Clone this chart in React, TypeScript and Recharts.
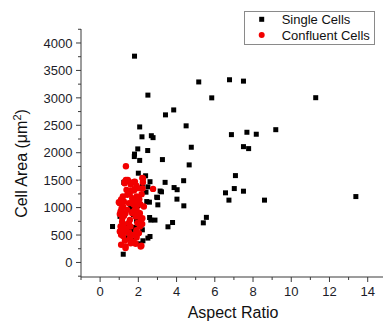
import React from "react";
import { Scatter, ScatterChart, XAxis, YAxis } from "recharts";

// aspect ratio / area pairs
const singleAspect = [
  1.8, 2.5, 3.42, 3.85, 4.5, 2.07, 2.19, 2.68, 2.77, 1.97, 2.49, 1.8, 1.79, 2.07, 3.26, 4.77,
  5.16, 6.77, 7.5, 5.84, 11.28, 6.87, 7.68, 8.17, 9.19, 7.5, 7.77, 4.66, 7.08, 6.56, 7.02, 7.5,
  6.74, 8.6, 13.38, 5.4, 5.56, 4.37, 3.87, 4.03, 4.02, 4.38, 3.79, 2.0, 2.38, 2.61, 3.4, 1.24,
  2.21, 2.4, 3.14, 3.21, 3.0, 2.44, 2.58, 3.02, 1.98, 2.59, 2.65, 2.87, 3.55, 0.65, 1.04, 1.51,
  1.63, 1.24, 1.89, 2.21, 2.5, 2.61, 2.24, 2.08, 1.21, 2.5, 2.96, 1.42, 2.03, 1.07, 1.6, 1.75,
  1.45, 1.85, 1.33, 1.7, 1.55, 1.9,
];
const singleArea = [
  3760, 3050, 2690, 2780, 2490, 2470, 2290, 2310, 2275, 2070, 2040, 1975, 1930, 1860, 1875, 2100,
  3290, 3330, 3305, 3000, 3003, 2330, 2373, 2337, 2420, 2111, 2075, 1778, 1583, 1269, 1347, 1299,
  1136, 1136, 1201, 722, 822, 1490, 1365, 1326, 1154, 1032, 728, 1627, 1580, 1472, 1460, 1460,
  1396, 1281, 1302, 1287, 1183, 1110, 1099, 1050, 1037, 819, 772, 772, 650, 655, 840, 626,
  564, 577, 517, 595, 444, 473, 395, 340, 150, 1378, 1190, 437, 1201, 1120, 1000, 870,
  700, 640, 450, 400, 620, 760,
];

const confluentAspect = [
  1.35, 1.29, 1.45, 1.82, 2.24, 2.24, 1.38, 1.59, 1.8, 2.22, 1.19, 1.42, 1.68, 1.91, 2.29, 1.03,
  1.24, 1.51, 1.77, 1.07, 1.42, 1.68, 1.98, 1.16, 1.56, 1.86, 2.12, 1.07, 1.33, 1.59, 2.08, 1.1,
  1.51, 1.77, 2.03, 1.1, 1.33, 1.86, 2.16, 1.35, 1.51, 1.77, 1.28, 2.21, 2.0, 2.77, 1.47, 1.77,
  2.17, 0.98, 1.68, 1.95, 1.03, 1.33, 1.68, 2.08, 2.21, 1.03, 1.28, 1.51, 1.95, 1.33, 2.12, 1.56,
  1.91, 1.6, 1.9, 1.55, 1.1, 1.85, 2.05, 1.2, 1.9, 2.1, 1.12, 1.8, 1.25, 1.95, 1.15, 1.5,
  1.95, 2.2, 1.2, 1.25, 1.4, 1.9, 1.2, 1.3, 1.75, 1.6,
];
const confluentArea = [
  1754, 1474, 1505, 1474, 1529, 1463, 1323, 1310, 1336, 1347, 1201, 1232, 1172, 1201, 1019, 1081,
  1110, 1081, 1050, 928, 959, 899, 910, 808, 777, 837, 777, 655, 626, 655, 655, 504,
  535, 504, 535, 322, 291, 340, 304, 1505, 1474, 1469, 1445, 1541, 1354, 1341, 1292, 1310,
  1245, 1099, 1092, 1081, 881, 899, 917, 899, 808, 564, 577, 546, 517, 262, 291, 444,
  455, 1420, 1400, 1250, 1150, 1130, 1150, 1020, 990, 1060, 980, 950, 850, 850, 740, 720,
  720, 700, 700, 600, 560, 590, 480, 400, 380, 350,
];

const xTicks = [-1, 0, 1, 2, 3, 4, 5, 6, 7, 8, 9, 10, 11, 12, 13, 14];
const yTicks = [
  -250, 0, 250, 500, 750, 1000, 1250, 1500, 1750, 2000, 2250, 2500, 2750, 3000, 3250, 3500,
  3750, 4000, 4250,
];

const singleData = singleAspect.map((x, i) => ({ x, y: singleArea[i] }));
const confluentData = confluentAspect.map((x, i) => ({ x, y: confluentArea[i] }));

const AXIS = "#3a3a3a";
const FONT = "'Liberation Sans', Arial, sans-serif";

function YTick({ x, y, payload }: any) {
  const major = payload.value % 500 === 0;
  return (
    <g>
      <line x1={x} x2={x - (major ? 5 : 3)} y1={y} y2={y} stroke={AXIS} />
      {major && (
        <text x={x - 8.5} y={y} dy="0.36em" textAnchor="end" fontSize={13} fontFamily={FONT} fill="#1c1c28">
          {payload.value}
        </text>
      )}
    </g>
  );
}

function XTick({ x, y, payload }: any) {
  const major = payload.value % 2 === 0;
  return (
    <g>
      <line x1={x} x2={x} y1={y} y2={y + (major ? 5 : 3)} stroke={AXIS} />
      {major && (
        <text x={x} y={y + 18.5} textAnchor="middle" fontSize={13} fontFamily={FONT} fill="#1c1c28">
          {payload.value}
        </text>
      )}
    </g>
  );
}

const square = (p: any) => <rect x={p.cx - 2.5} y={p.cy - 2.5} width={5} height={5} fill="#000" />;
const dot = (p: any) => <circle cx={p.cx} cy={p.cy} r={3.2} fill="#f20000" />;

function LegendBox() {
  return (
    <svg width={131} height={34} style={{ position: "absolute", left: 244, top: 11 }}>
      <rect x={0.5} y={0.5} width={130} height={33} fill="#fff" stroke="#8a8a8a" />
      <rect x={15.2} y={5.8} width={5} height={5} fill="#000" />
      <text x={37.7} y={13} fontSize={13} fontFamily={FONT} fill="#111">
        Single Cells
      </text>
      <circle cx={17.7} cy={24} r={3} fill="#f20000" />
      <text x={37.7} y={28.6} fontSize={13} fontFamily={FONT} fill="#111">
        Confluent Cells
      </text>
    </svg>
  );
}

export default function App() {
  return (
    <div style={{ position: "absolute", left: 0, top: 0, width: 383, height: 326, background: "#fff" }}>
      <ScatterChart width={383} height={326} margin={{ top: 29, right: 0, bottom: 0, left: 0 }}>
        <XAxis
          type="number"
          dataKey="x"
          domain={[-1, 14.8]}
          ticks={xTicks}
          allowDataOverflow
          height={49}
          stroke={AXIS}
          tickLine={false}
          tickSize={0}
          tickMargin={0}
          tick={<XTick />}
          interval={0}
        />
        <YAxis
          type="number"
          dataKey="y"
          domain={[-265, 4255]}
          ticks={yTicks}
          allowDataOverflow
          width={81}
          stroke={AXIS}
          tickLine={false}
          tickSize={0}
          tickMargin={0}
          tick={<YTick />}
          interval={0}
        />
        <Scatter name="Single Cells" data={singleData} shape={square} isAnimationActive={false} />
        <Scatter name="Confluent Cells" data={confluentData} shape={dot} isAnimationActive={false} />
        <text x={233} y={318} textAnchor="middle" fontSize={16} fontFamily={FONT} fill="#111">
          Aspect Ratio
        </text>
        <text
          x={27}
          y={163.5}
          transform="rotate(-90 27 163.5)"
          textAnchor="middle"
          fontSize={16}
          fontFamily={FONT}
          fill="#111"
        >
          Cell Area (μm
          <tspan dy={-6} fontSize={11}>
            2
          </tspan>
          <tspan dy={6}>)</tspan>
        </text>
      </ScatterChart>
      <LegendBox />
    </div>
  );
}
